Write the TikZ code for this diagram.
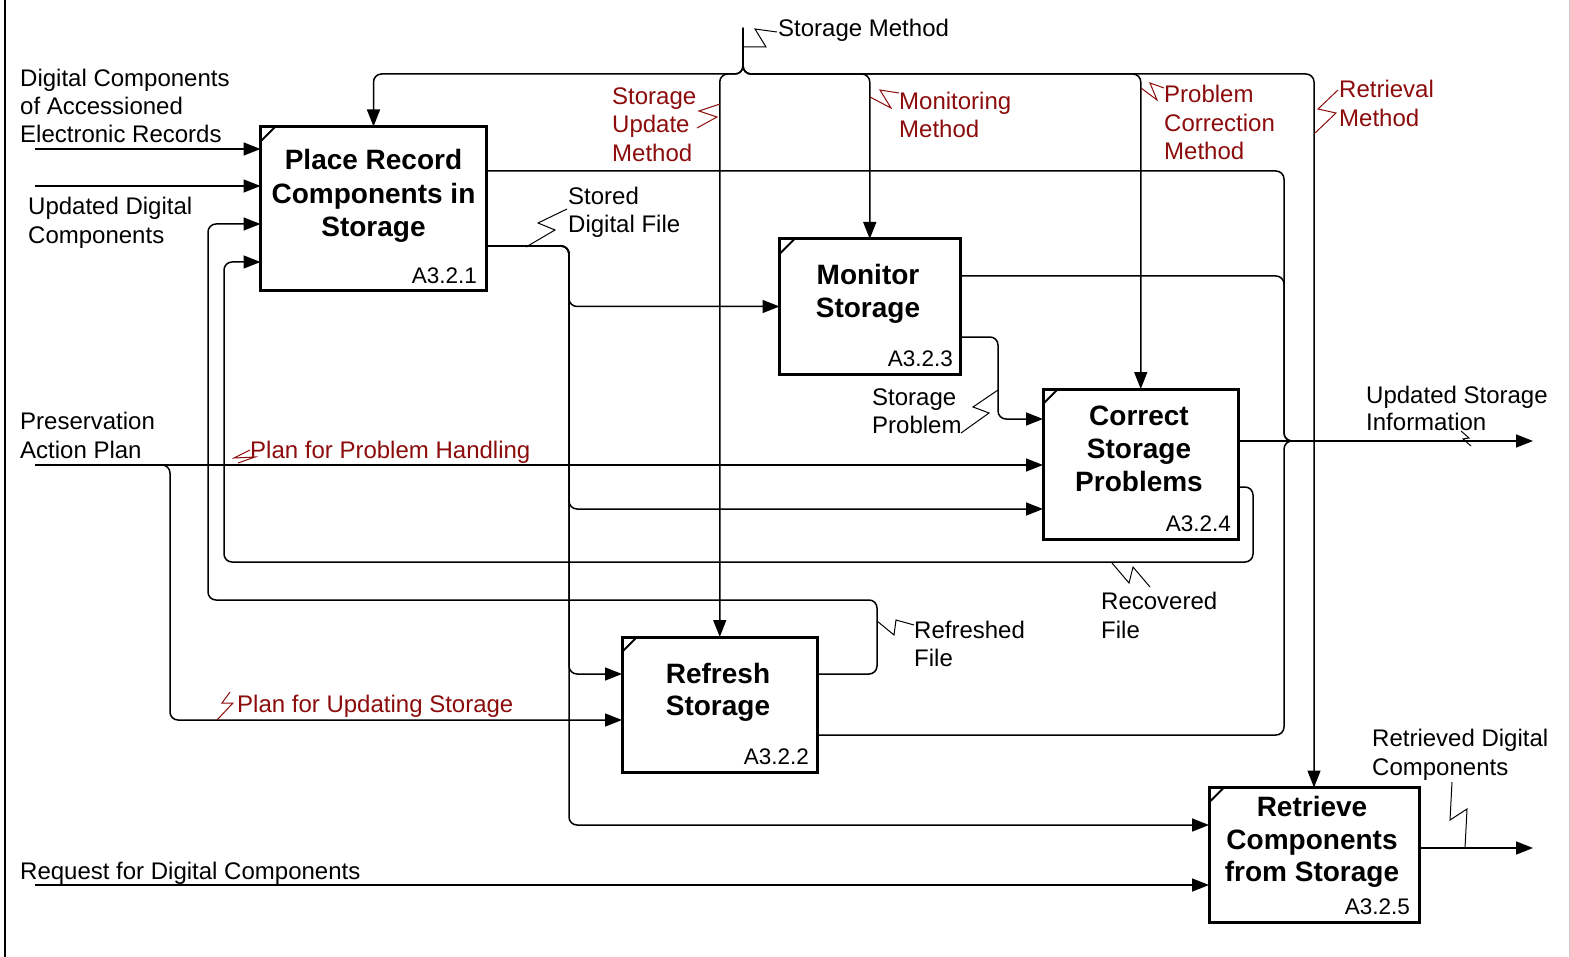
\documentclass[tikz,border=0pt]{standalone}
\usepackage{fontspec}
\setmainfont{Liberation Sans}
\usetikzlibrary{arrows.meta}
\definecolor{lblred}{RGB}{140,12,12}

\tikzset{
  conn/.style={line width=1.5pt, rounded corners=8pt},
  arr/.style={conn, -{Triangle[length=17pt,width=13pt]}},
  actbox/.style={draw, line width=3pt, inner sep=0pt, outer sep=0pt},
  lab/.style={inner sep=0pt, anchor=base west, yshift=-1pt, font=\fontsize{24}{28}\selectfont},
  redlab/.style={lab, text=lblred},
  ttl/.style={inner sep=0pt, anchor=base, yshift=-1.5pt, font=\fontsize{28}{33}\selectfont\bfseries},
  num/.style={inner sep=0pt, anchor=base east, yshift=-1pt, font=\fontsize{22.5}{27}\selectfont},
  zig/.style={line width=1pt},
  redzig/.style={zig, draw=lblred},
  cornermark/.style={line width=2pt}
}

\begin{document}
\begin{tikzpicture}[x=1pt,y=-1pt]
\useasboundingbox (0,0) rectangle (1570,957);

% frame edges
\draw[line width=1.5pt] (5,0) -- (5,957);
\draw[line width=1pt, black!20] (1569,0) -- (1569,957);

% activity boxes
\node[actbox, minimum width=226, minimum height=164.5] (b1) at (373.5,208.75) {};
\node[actbox, minimum width=180.5, minimum height=135] (b3) at (869.75,306.5) {};
\node[actbox, minimum width=195.5, minimum height=150] (b4) at (1140.75,464) {};
\node[actbox, minimum width=195.5, minimum height=135] (b2) at (719.75,704.5) {};
\node[actbox, minimum width=210, minimum height=134.5] (b5) at (1314,854.75) {};

% corner marks
\foreach \b in {b1,b2,b3,b4,b5}
  \draw[cornermark] ([yshift=-15pt]\b.north west) -- ([xshift=15pt]\b.north west);

% box titles and numbers
\node[ttl] (t1a) at (373.5,168) {Place Record};
\node[ttl] (t1b) at (373.5,202) {Components in};
\node[ttl] (t1c) at (373.5,235) {Storage};
\node[num] (n1) at (477,283) {A3.2.1};

\node[ttl] (t3a) at (868,283) {Monitor};
\node[ttl] (t3b) at (868,316) {Storage};
\node[num] (n3) at (953,365) {A3.2.3};

\node[ttl] (t4a) at (1139,424) {Correct};
\node[ttl] (t4b) at (1139,457) {Storage};
\node[ttl] (t4c) at (1139,490) {Problems};
\node[num] (n4) at (1231,530) {A3.2.4};

\node[ttl] (t2a) at (718,682) {Refresh};
\node[ttl] (t2b) at (718,714) {Storage};
\node[num] (n2) at (809,763) {A3.2.2};

\node[ttl] (t5a) at (1312,815) {Retrieve};
\node[ttl] (t5b) at (1312,848) {Components};
\node[ttl] (t5c) at (1312,880) {from Storage};
\node[num] (n5) at (1410,913) {A3.2.5};

% controls: Storage Method splits to every activity
\coordinate (smtop) at (743,28);
\coordinate (smj) at (743,74);
\foreach \b in {b1,b2,b3,b4,b5}
  \draw[arr] (smtop) -- (smj) -- (\b.north |- smj) -- (\b.north);

% inputs
\coordinate (inDC) at (35,149);
\coordinate (inUD) at (35,186);
\coordinate (inPA) at (35,465);
\coordinate (inRQ) at (35,885);
\draw[arr] (inDC) -- (inDC -| b1.west);
\draw[arr] (inUD) -- (inUD -| b1.west);
\draw[arr] (inPA) -- (inPA -| b4.west);
\draw[arr] (inPA) -- (170,465) -- (170,720) -- (b2.west |- 0,720);
\draw[arr] (inRQ) -- (inRQ -| b5.west);

% stored digital file
\coordinate (sdf) at (569,246);
\draw[arr] (b1.east |- sdf) -- (sdf) -- (sdf |- b3.west) -- (b3.west);
\draw[arr] (b1.east |- sdf) -- (sdf) -- (sdf |- 0,509) -- (b4.west |- 0,509);
\draw[arr] (b1.east |- sdf) -- (sdf) -- (sdf |- 0,674) -- (b2.west |- 0,674);
\draw[arr] (b1.east |- sdf) -- (sdf) -- (sdf |- 0,825) -- (b5.west |- 0,825);

% feedback loops
\draw[arr] (b2.east |- 0,674) -- (877,674) -- (877,600) -- (208,600) -- (208,224) -- (b1.west |- 0,224);
\draw[arr] (b4.east |- 0,487) -- (1253,487) -- (1253,562) -- (224,562) -- (224,262) -- (b1.west |- 0,262);

% storage problem
\draw[arr] (b3.east |- 0,337) -- (998,337) -- (998,419) -- (b4.west |- 0,419);

% outputs
\coordinate (outUS) at (1533,441);
\coordinate (outRD) at (1533,848);
\draw[arr] (b4.east |- outUS) -- (outUS);
\draw[conn] (b1.east |- 0,171) -- (1284,171) -- (1284,441) -- (1400,441);
\draw[conn] (b3.east |- 0,276) -- (1284,276) -- (1284,441) -- (1400,441);
\draw[conn] (b2.east |- 0,735) -- (1284,735) -- (1284,441) -- (1400,441);
\draw[arr] (b5.east |- outRD) -- (outRD);

% labels (black)
\node[lab] (l1) at (20,86) {Digital Components};
\node[lab] (l2) at (20,114) {of Accessioned};
\node[lab] (l3) at (20,142) {Electronic Records};
\node[lab] (l4) at (28,214) {Updated Digital};
\node[lab] (l5) at (28,243) {Components};
\node[lab] (l6) at (20,428) {Preservation};
\node[lab] (l7) at (20,457) {Action Plan};
\node[lab] (l8) at (20,878) {Request for Digital Components};
\node[lab] (l9) at (778,36) {Storage Method};
\node[lab] (l10) at (568,204) {Stored};
\node[lab] (l11) at (568,232) {Digital File};
\node[lab] (l12) at (872,404) {Storage};
\node[lab] (l13) at (872,432) {Problem};
\node[lab] (l14) at (1366,402) {Updated Storage};
\node[lab] (l15) at (1366,429) {Information};
\node[lab] (l16) at (1101,608) {Recovered};
\node[lab] (l17) at (1101,637) {File};
\node[lab] (l18) at (914,637) {Refreshed};
\node[lab] (l19) at (914,665) {File};
\node[lab] (l20) at (1372,745) {Retrieved Digital};
\node[lab] (l21) at (1372,774) {Components};

% labels (red)
\node[redlab] (r1) at (612,104) {Storage};
\node[redlab] (r2) at (612,132) {Update};
\node[redlab] (r3) at (612,161) {Method};
\node[redlab] (r4) at (899,109) {Monitoring};
\node[redlab] (r5) at (899,137) {Method};
\node[redlab] (r6) at (1164,102) {Problem};
\node[redlab] (r7) at (1164,131) {Correction};
\node[redlab] (r8) at (1164,159) {Method};
\node[redlab] (r9) at (1339,97) {Retrieval};
\node[redlab] (r10) at (1339,126) {Method};
\node[redlab] (r11) at (250,457) {Plan for Problem Handling};
\node[redlab] (r12) at (237,711) {Plan for Updating Storage};

% label leaders
\draw[zig] (743,47) -- (766,47) -- (755,29) -- (777,32);
\draw[zig] (526,247) -- (555,230) -- (538,223) -- (567,209);
\draw[zig] (998,390) -- (973,407) -- (989,413) -- (961,433);
\draw[zig] (1461,431) -- (1469,438) -- (1463,439) -- (1471,446);
\draw[zig] (1112,563) -- (1129,583) -- (1133,567) -- (1150,587);
\draw[zig] (877,621) -- (894,635) -- (896,620) -- (914,625);
\draw[zig] (1452,782) -- (1450,820) -- (1467,809) -- (1465,848);
\draw[redzig] (720,104) -- (699,111) -- (717,117) -- (697,128);
\draw[redzig] (870,97) -- (891,108) -- (880,90) -- (899,93);
\draw[redzig] (1141,88) -- (1157,100) -- (1150,83) -- (1164,88);
\draw[redzig] (1315,133) -- (1336,113) -- (1318,109) -- (1338,90);
\draw[redzig] (250,450) -- (234,458) -- (255,457) -- (238,463);
\draw[redzig] (230,692) -- (222,703) -- (233,703) -- (217,720);
\end{tikzpicture}
\end{document}
